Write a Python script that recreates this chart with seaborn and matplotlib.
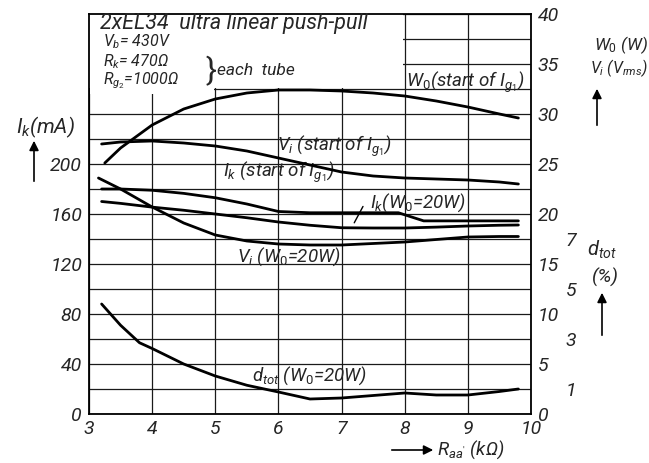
import numpy as np
import pandas as pd
import matplotlib
matplotlib.use("Agg")
import matplotlib.pyplot as plt
import seaborn as sns
from matplotlib.patches import Rectangle, FancyArrowPatch

# ---------------- data ----------------
# W0 (start of Ig1) in W
x_wo = [3.25, 3.5, 4.0, 4.5, 5.0, 5.5, 6.0, 6.5, 7.0, 7.5, 8.0, 8.5, 9.0, 9.5, 9.8]
wo_start = [25.1, 26.6, 28.9, 30.5, 31.5, 32.1, 32.4, 32.4, 32.3, 32.1, 31.8, 31.3, 30.7, 30.0, 29.6]

# Vi (start of Ig1) in Vrms
x_vi = [3.2, 3.5, 4.0, 4.5, 5.0, 5.5, 6.0, 6.5, 7.0, 7.5, 8.0, 8.5, 9.0, 9.5, 9.8]
vi_start = [27.0, 27.2, 27.3, 27.1, 26.8, 26.3, 25.6, 24.9, 24.2, 23.8, 23.6, 23.5, 23.4, 23.2, 23.0]

# Ik (start of Ig1) in mA
x_ik = [3.2, 3.5, 4.0, 4.5, 5.0, 5.5, 6.0, 6.5, 7.0, 7.5, 7.9, 8.3, 9.0, 9.5, 9.8]
ik_start = [180, 180, 179, 176.5, 173, 168, 162, 161, 161, 161, 161, 154.5, 154.5, 154.5, 154.5]

# Ik (W0 = 20 W) in mA
x_ik20 = [3.2, 3.5, 4.0, 4.5, 5.0, 5.5, 6.0, 6.5, 7.0, 7.5, 8.0, 8.5, 9.0, 9.5, 9.8]
ik_20w = [170, 168.5, 165.5, 163, 160, 157, 153.6, 151, 149, 148.8, 148.8, 149.5, 150.4, 151, 151.2]

# Vi (W0 = 20 W) in Vrms
x_vi20 = [3.15, 3.5, 4.0, 4.5, 5.0, 5.5, 6.0, 6.5, 7.0, 7.5, 8.0, 8.5, 9.0, 9.5, 9.8]
vi_20w = [23.6, 22.5, 20.7, 19.1, 17.9, 17.3, 17.0, 16.9, 16.9, 17.05, 17.2, 17.45, 17.7, 17.75, 17.75]

# dtot (W0 = 20 W) in %
x_d = [3.2, 3.5, 3.8, 4.0, 4.5, 5.0, 5.5, 6.0, 6.5, 7.0, 7.5, 8.0, 8.5, 9.0, 9.5, 9.8]
dtot_20w = [4.4, 3.55, 2.85, 2.62, 2.0, 1.52, 1.15, 0.88, 0.6, 0.64, 0.74, 0.84, 0.76, 0.76, 0.9, 1.0]

x_ticks = [3, 4, 5, 6, 7, 8, 9, 10]
ik_ticks = [0, 40, 80, 120, 160, 200]
wv_ticks = [0, 5, 10, 15, 20, 25, 30, 35, 40]
d_ticks = [1, 3, 5, 7]

# ---------------- style ----------------
sns.set_style("white")
main = 'Roboto'
plt.rcParams['font.family'] = [main, 'DejaVu Sans']
plt.rcParams['mathtext.fontset'] = 'custom'
plt.rcParams['mathtext.rm'] = main
plt.rcParams['mathtext.it'] = main + ':italic'
plt.rcParams['mathtext.bf'] = main + ':bold'

W, H = 649, 463
fig = plt.figure(figsize=(W / 100, H / 100), dpi=100)
ax = fig.add_axes([89 / W, 49 / H, 442 / W, 400 / H])
ax.set_xlim(3, 10)
ax.set_ylim(0, 320)

tfs = 14
ax.set_xticks(x_ticks)
ax.set_xticklabels([str(t) for t in x_ticks], fontstyle='italic', fontsize=tfs)
yt = list(range(0, 321, 20))
ax.set_yticks(yt)
ax.set_yticklabels([str(v) if v in ik_ticks else '' for v in yt], fontstyle='italic', fontsize=tfs)
ax.tick_params(axis='both', length=0, pad=5)
ax.tick_params(axis='x', pad=4)
ax.set_axisbelow(True)
ax.grid(True, color='#1a1a1a', linewidth=0.9)
for s in ax.spines.values():
    s.set_visible(True)
    s.set_color('black')
    s.set_linewidth(1.3)

# text box area that hides the grid
ax.add_patch(Rectangle((3.0, 261), 4.98, 59, facecolor='white', edgecolor='none', zorder=1))
ax.add_patch(Rectangle((3.02, 256), 1.96, 6, facecolor='white', edgecolor='none', zorder=1))

# secondary axis: W0 (W) / Vi (Vrms)
ax2 = ax.twinx()
ax2.set_ylim(0, 40)
ax2.set_yticks(wv_ticks)
ax2.set_yticklabels([str(v) for v in wv_ticks], fontstyle='italic', fontsize=tfs)
ax2.tick_params(axis='y', length=0, pad=5)
for s in ax2.spines.values():
    s.set_visible(False)

# third axis: dtot (%)
ax3 = ax.twinx()
ax3.set_ylim(0, 16)
ax3.set_yticks(d_ticks)
ax3.set_yticklabels([str(v) for v in d_ticks], fontstyle='italic', fontsize=tfs)
ax3.tick_params(axis='y', length=0, pad=25)
for s in ax3.spines.values():
    s.set_visible(False)

lw = 2.0
sns.lineplot(x=x_wo, y=wo_start, ax=ax2, color='black', linewidth=lw)
sns.lineplot(x=x_vi, y=vi_start, ax=ax2, color='black', linewidth=lw)
sns.lineplot(x=x_vi20, y=vi_20w, ax=ax2, color='black', linewidth=lw)
sns.lineplot(x=x_ik, y=ik_start, ax=ax, color='black', linewidth=lw, zorder=3)
sns.lineplot(x=x_ik20, y=ik_20w, ax=ax, color='black', linewidth=lw, zorder=3)
sns.lineplot(x=x_d, y=dtot_20w, ax=ax3, color='black', linewidth=lw)
for a in (ax, ax2, ax3):
    a.set_xlabel('')
    a.set_ylabel('')
ax2.set_xlim(3, 10)

# curve labels
fs = 13.5
ax.text(8.02, 265, r'$W_0$(start of $I_{g_1}$)', fontsize=fs, style='italic', va='center', zorder=4)
ax.text(5.97, 214, r'$V_i$ (start of $I_{g_1}$)', fontsize=fs, style='italic', va='center', zorder=4)
ax.text(5.12, 193, r'$I_k$ (start of $I_{g_1}$)', fontsize=fs, style='italic', va='center', zorder=4)
ax.text(7.45, 169, r'$I_k$($W_0$=20W)', fontsize=fs, style='italic', va='center', zorder=4)
ax.annotate('', xy=(7.18, 151), xytext=(7.36, 168),
            arrowprops=dict(arrowstyle='-', color='black', lw=1))
ax.text(5.35, 126, r'$V_i$ ($W_0$=20W)', fontsize=fs, style='italic', va='center', zorder=4)
ax.text(5.58, 31, r'$d_{tot}$ ($W_0$=20W)', fontsize=fs, style='italic', va='center', zorder=4)

# box text
ax.text(3.17, 312, '2xEL34  ultra linear push-pull', fontsize=15.5, style='italic', va='center', zorder=4)
bfs = 11.5
ax.text(3.22, 297.5, r'$V_b$= 430V', fontsize=bfs, style='italic', va='center', zorder=4)
ax.text(3.22, 282, r'$R_k$= 470Ω', fontsize=bfs, style='italic', va='center', zorder=4)
ax.text(3.22, 266.5, r'$R_{g_2}$=1000Ω', fontsize=bfs, style='italic', va='center', zorder=4)
ax.text(4.84, 274, '}', fontsize=23, va='center', zorder=4)
ax.text(5.03, 275, 'each  tube', fontsize=12.5, style='italic', va='center', zorder=4)


def fx(px):
    return px / W


def fy(py):
    return 1 - py / H


# axis titles
afs = 15
fig.text(fx(16), fy(127), r'$I_k$(mA)', fontsize=afs, style='italic', va='center', ha='left')
fig.text(fx(594), fy(45), r'$W_0$ (W)', fontsize=12.5, style='italic', va='center', ha='left')
fig.text(fx(590), fy(68), r'$V_i$ ($V_{rms}$)', fontsize=11.5, style='italic', va='center', ha='left')
fig.text(fx(587), fy(250), r'$d_{tot}$', fontsize=14.5, style='italic', va='center', ha='left')
fig.text(fx(592), fy(277), '(%)', fontsize=14, style='italic', va='center', ha='left')
fig.text(fx(437), fy(450), r"$R_{aa'}$ (kΩ)", fontsize=13.5, style='italic', va='center', ha='left')

arrow = dict(arrowstyle='-|>', color='black', lw=1.2, mutation_scale=14)
fig.add_artist(FancyArrowPatch((fx(34), fy(184)), (fx(34), fy(138)),
               transform=fig.transFigure, **arrow))
fig.add_artist(FancyArrowPatch((fx(597), fy(128)), (fx(597), fy(86)),
               transform=fig.transFigure, **arrow))
fig.add_artist(FancyArrowPatch((fx(602), fy(338)), (fx(602), fy(290)),
               transform=fig.transFigure, **arrow))
fig.add_artist(FancyArrowPatch((fx(389), fy(450)), (fx(436), fy(450)),
               transform=fig.transFigure, **arrow))

fig.savefig('out.png', dpi=100)
